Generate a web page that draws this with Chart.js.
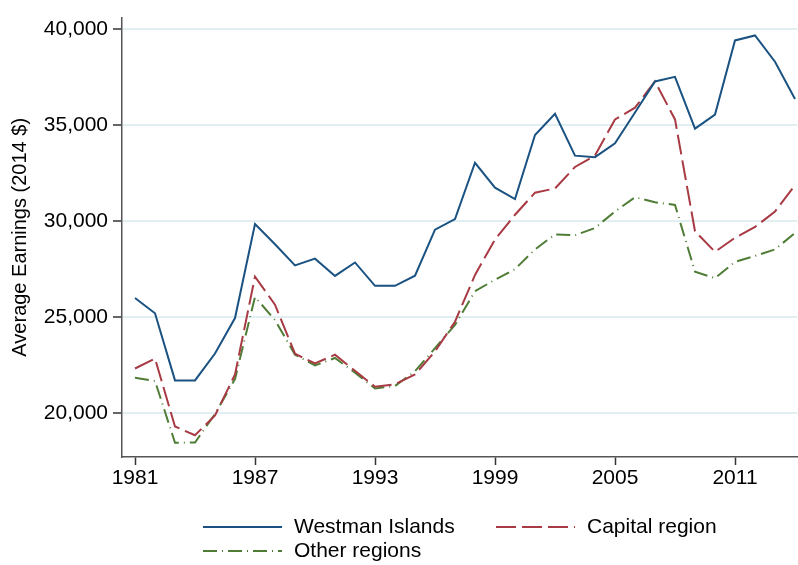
<!DOCTYPE html>
<html>
<head>
<meta charset="utf-8">
<script src="https://cdn.jsdelivr.net/npm/chart.js@4"></script>
<style>
  html, body { margin: 0; padding: 0; background: #fff; }
  #wrap { width: 798px; height: 565px; }
</style>
</head>
<body>
<div id="wrap"><canvas id="earningsChart" width="798" height="565"></canvas></div>
<script>
// years on the x axis
const years = [1981, 1982, 1983, 1984, 1985, 1986, 1987, 1988, 1989, 1990,
  1991, 1992, 1993, 1994, 1995, 1996, 1997, 1998, 1999, 2000,
  2001, 2002, 2003, 2004, 2005, 2006, 2007, 2008, 2009, 2010,
  2011, 2012, 2013, 2014];

// average earnings (2014 $)
const westman = [26000, 25200, 21700, 21700, 23100, 24950, 29850, 28800, 27700, 28050,
  27150, 27850, 26630, 26630, 27160, 29560, 30110, 33050, 31750, 31160,
  34500, 35600, 33420, 33340, 34060, 35670, 37290, 37530, 34830, 35560,
  39430, 39690, 38320, 36380];
const capital = [22320, 22840, 19300, 18840, 19870, 22010, 27110, 25650, 23090, 22580,
  23040, 22200, 21370, 21500, 22010, 23210, 24760, 27200, 29050, 30340,
  31490, 31710, 32830, 33430, 35310, 35920, 37290, 35310, 29480, 28400,
  29140, 29700, 30510, 31880];
const other = [21840, 21670, 18450, 18460, 19950, 21770, 26050, 24850, 23040, 22480,
  22870, 22100, 21280, 21410, 22180, 23380, 24590, 26350, 26950, 27500,
  28530, 29310, 29270, 29650, 30510, 31250, 30990, 30850, 27370, 27030,
  27880, 28190, 28530, 29390];

const seriesNames = ['Westman Islands', 'Capital region', 'Other regions'];

// tick labels
const xTicks = [1981, 1987, 1993, 1999, 2005, 2011];
const yTicks = [20000, 25000, 30000, 35000, 40000];

const FONT = 'Liberation Sans, Arial, Helvetica, sans-serif';

const toPoints = (vals) => vals.map((v, i) => ({ x: years[i], y: v }));

// legend laid out in two columns like the original
const gridLegend = {
  id: 'gridLegend',
  afterDraw(chart) {
    const ctx = chart.ctx;
    const slots = [
      { x: 203, y: 527 },
      { x: 496, y: 527 },
      { x: 203, y: 551 }
    ];
    chart.data.datasets.forEach((ds, i) => {
      const s = slots[i];
      ctx.save();
      ctx.strokeStyle = ds.borderColor;
      ctx.lineWidth = ds.borderWidth;
      ctx.setLineDash(ds.borderDash || []);
      ctx.beginPath();
      ctx.moveTo(s.x, s.y);
      ctx.lineTo(s.x + 79, s.y);
      ctx.stroke();
      ctx.setLineDash([]);
      ctx.fillStyle = '#000';
      ctx.font = '21px ' + FONT;
      ctx.textBaseline = 'middle';
      ctx.textAlign = 'left';
      ctx.fillText(ds.label, s.x + 91, s.y);
      ctx.restore();
    });
  }
};

new Chart(document.getElementById('earningsChart').getContext('2d'), {
  type: 'line',
  data: {
    datasets: [
      {
        label: seriesNames[0],
        data: toPoints(westman),
        borderColor: '#1a5282',
        borderWidth: 2,
        pointRadius: 0
      },
      {
        label: seriesNames[1],
        data: toPoints(capital),
        borderColor: '#a83a44',
        borderWidth: 2,
        borderDash: [20, 6],
        pointRadius: 0
      },
      {
        label: seriesNames[2],
        data: toPoints(other),
        borderColor: '#4f7d35',
        borderWidth: 2,
        borderDash: [14, 5, 1, 5],
        pointRadius: 0
      }
    ]
  },
  options: {
    responsive: false,
    animation: false,
    layout: { padding: { left: 0, right: 1, top: 12, bottom: 0 } },
    plugins: {
      legend: { display: false },
      tooltip: { enabled: false }
    },
    scales: {
      x: {
        type: 'linear',
        min: 1980.35,
        max: 2014.1,
        afterFit(scale) { scale.height = 108; },
        afterBuildTicks(scale) { scale.ticks = xTicks.map(v => ({ value: v })); },
        grid: {
          drawOnChartArea: false,
          drawTicks: true,
          tickLength: 8,
          tickColor: '#333',
          tickWidth: 1.5
        },
        border: { color: '#555', width: 1.5 },
        ticks: {
          padding: 1,
          color: '#000',
          font: { family: FONT, size: 21 },
          callback: (v) => String(v),
          maxRotation: 0
        }
      },
      y: {
        min: 17705,
        max: 40620,
        afterFit(scale) { scale.width = 122; },
        afterBuildTicks(scale) { scale.ticks = yTicks.map(v => ({ value: v })); },
        grid: {
          color: '#e2eff2',
          lineWidth: 2,
          drawTicks: true,
          tickLength: 9,
          tickColor: '#333',
          tickWidth: 1.5
        },
        border: { color: '#555', width: 1.5 },
        title: {
          display: true,
          text: 'Average Earnings (2014 $)',
          color: '#000',
          font: { family: FONT, size: 20 },
          padding: { top: 8, bottom: 0 }
        },
        ticks: {
          padding: 5,
          color: '#000',
          font: { family: FONT, size: 21 },
          callback: (v) => Number(v).toLocaleString('en-US')
        }
      }
    }
  },
  plugins: [gridLegend]
});
</script>
</body>
</html>
